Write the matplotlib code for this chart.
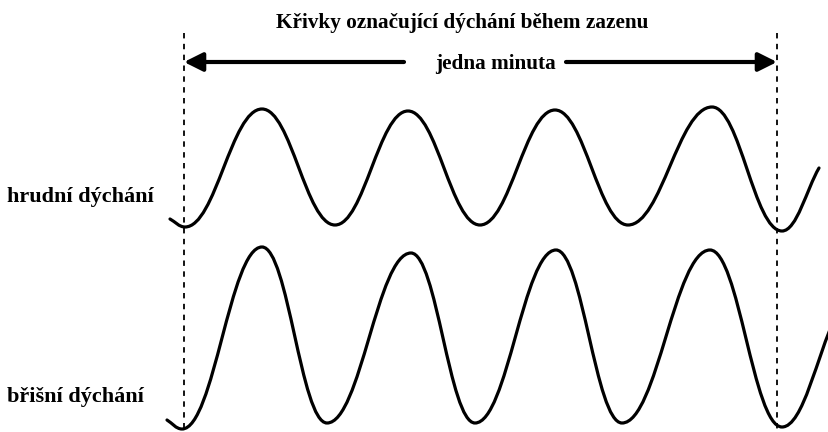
import matplotlib
matplotlib.use("Agg")
import matplotlib.pyplot as plt
from matplotlib.path import Path
from matplotlib.patches import PathPatch, FancyArrowPatch

# curve key points (x, y in pixels, y downward): start, extrema..., end
chest_x = [170, 185, 262, 335, 408, 480, 555, 628, 712, 782, 819]
chest_y = [219, 227, 109, 225, 111, 225, 110, 225, 107, 231, 168]
belly_x = [167, 182, 262, 327, 411, 475, 556, 622, 710, 782, 835]
belly_y = [420, 429, 247, 423, 253, 423, 250, 423, 250, 427, 318]

minute_lines = [184, 777]
title = "Křivky označující dýchání během zazenu"
span_label = "jedna minuta"
row_labels = ["hrudní dýchání", "břišní dýchání"]
row_label_y = [197, 397]

W, H = 829, 432
fig = plt.figure(figsize=(W / 100, H / 100), dpi=100)
ax = fig.add_axes([0, 0, 1, 1])
ax.set_xlim(0, W)
ax.set_ylim(H, 0)
ax.axis("off")


def wave_path(xs, ys, k=0.4):
    verts = [(xs[0], ys[0])]
    codes = [Path.MOVETO]
    n = len(xs)
    for i in range(n - 1):
        x0, y0, x1, y1 = xs[i], ys[i], xs[i + 1], ys[i + 1]
        dx = x1 - x0
        # first / last points are not extrema: leave along the chord
        if i == 0:
            c1 = (x0 + dx / 3, y0 + (y1 - y0) / 3)
        else:
            c1 = (x0 + k * dx, y0)
        if i == n - 2:
            c2 = (x1 - dx / 3, y1 - (y1 - y0) / 3)
        else:
            c2 = (x1 - k * dx, y1)
        verts += [c1, c2, (x1, y1)]
        codes += [Path.CURVE4] * 3
    return Path(verts, codes)


for xs, ys in [(chest_x, chest_y), (belly_x, belly_y)]:
    ax.add_patch(PathPatch(wave_path(xs, ys), fill=False, lw=2.3,
                           color="black", capstyle="round"))

for x in minute_lines:
    ax.plot([x, x], [33, H], color="black", lw=1.3,
            linestyle=(0, (3, 3)))

serif = "Liberation Serif"
ax.text(462, 23, title, ha="center", va="center", fontsize=15.3,
        family=serif, weight="bold")
ax.text(496, 64, span_label, ha="center", va="center", fontsize=15.3,
        family=serif, weight="bold")
for lbl, y in zip(row_labels, row_label_y):
    ax.text(7, y, lbl, ha="left", va="center", fontsize=16,
            family=serif, weight="bold")

# arrows pointing to the two minute marks
for start, end in [(404, minute_lines[0]), (566, minute_lines[1])]:
    ax.add_patch(FancyArrowPatch((start, 62), (end, 62), arrowstyle="-|>",
                                 mutation_scale=28, lw=3, color="black",
                                 shrinkA=0, shrinkB=0))

fig.savefig("out.png", dpi=100, facecolor="white")
